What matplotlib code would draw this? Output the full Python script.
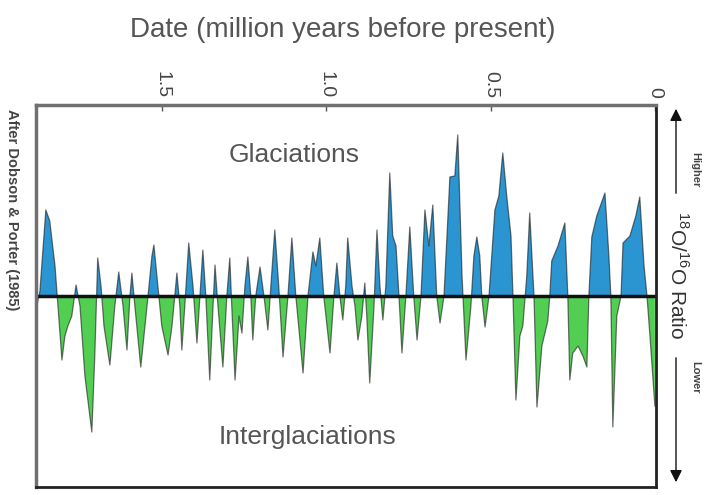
import numpy as np
import matplotlib
matplotlib.use("Agg")
import matplotlib.pyplot as plt

plt.rcParams["font.family"] = ["Liberation Sans", "DejaVu Sans"]
plt.rcParams["mathtext.fontset"] = "custom"
plt.rcParams["mathtext.rm"] = "Liberation Sans"

# age in thousand years before present, isotope anomaly in relative units
age_kyr = [
    1884, 1872, 1854, 1842, 1826, 1817, 1805, 1796, 1787, 1775,
    1762, 1750, 1735, 1714, 1705, 1696, 1686, 1677, 1659, 1644,
    1632, 1619, 1607, 1598, 1592, 1583, 1565, 1546, 1531, 1525,
    1513, 1501, 1482, 1470, 1455, 1446, 1440, 1431, 1419, 1406,
    1394, 1385, 1376, 1367, 1355, 1345, 1339, 1330, 1315, 1303,
    1294, 1288, 1278, 1266, 1257, 1248, 1239, 1230, 1224, 1215,
    1202, 1190, 1178, 1169, 1157, 1145, 1132, 1117, 1105, 1093,
    1071, 1056, 1041, 1032, 1020, 1008, 989, 977, 968, 959,
    950, 941, 935, 922, 913, 904, 892, 883, 877, 868,
    855, 846, 837, 828, 819, 807, 798, 788, 779, 770,
    758, 746, 734, 724, 712, 700, 688, 676, 664, 654,
    642, 624, 609, 600, 587, 575, 560, 551, 542, 533,
    527, 517, 505, 487, 475, 463, 451, 438, 432, 423,
    411, 402, 390, 381, 368, 359, 344, 326, 320, 314,
    295, 274, 265, 259, 250, 234, 219, 207, 201, 192,
    177, 152, 140, 134, 128, 116, 103, 97, 76, 58,
    46, 33, 24, 15, 0,
]
ratio = [
    -1.4, 0.5, 8.6, 7.5, 3.0, -1.0, -6.4, -4.0, -3.0, -2.0,
    1.1, -1.0, -8.0, -13.6, -6.0, 3.8, 1.0, -3.0, -6.9, -1.0,
    2.4, -1.0, -5.4, 0.0, 2.3, -1.0, -7.1, -1.0, 4.0, 5.1,
    1.0, -3.0, -5.9, -3.0, 2.3, -1.0, -5.4, -1.0, 5.3, 1.0,
    -4.7, 0.0, 4.6, 0.0, -8.4, -1.0, 3.1, -1.0, -7.1, 0.0,
    3.8, -1.0, -8.4, -2.0, -3.7, 1.0, 3.9, 0.0, -4.4, 0.0,
    2.9, 0.0, -3.4, 1.0, 6.6, 1.0, -6.1, 0.0, 5.8, 0.0,
    -7.7, 0.0, 4.4, 3.0, 5.8, 0.0, -5.7, 0.0, 3.3, 0.0,
    -2.4, 1.0, 5.8, 1.0, -1.0, -4.4, -2.0, 1.3, -2.0, -8.7,
    -1.0, 6.6, 1.0, -2.4, 1.0, 12.3, 6.0, 5.0, 0.0, -5.7,
    0.0, 6.9, 0.0, -4.4, 0.0, 8.6, 5.0, 9.1, 0.0, -2.7,
    0.0, 11.9, 12.0, 16.1, 2.0, -6.4, -1.0, 4.0, 5.9, 4.0,
    0.0, -3.1, 0.0, 8.6, 10.0, 14.3, 10.0, 6.0, 0.0, -10.4,
    -4.0, -3.0, 2.0, 8.3, 0.0, -11.1, -5.0, -2.5, 0.0, 3.5,
    5.0, 7.3, 0.0, -8.4, -5.7, -5.0, -6.0, -7.1, 0.0, 5.9,
    8.0, 10.3, 4.0, 0.0, -13.1, -2.0, 0.0, 5.3, 6.0, 8.0,
    9.9, 3.0, 0.0, -4.0, -11.0,
]

tick_ages = [1500, 1000, 500, 0]
tick_labels = ["1.5", "1.0", "0.5", "0"]

t = np.array(age_kyr, dtype=float)
v = np.array(ratio)

fig = plt.figure(figsize=(7.04, 4.95), dpi=100)
ax = fig.add_axes([0.0511, 0.016, 0.881, 0.772])

ax.fill_between(t, v, 0, where=v >= 0, interpolate=True,
                color="#2a95d0", lw=0)
ax.fill_between(t, v, 0, where=v <= 0, interpolate=True,
                color="#52cf52", lw=0)
ax.plot(t, v, color="#1a1a1a", lw=0.9, alpha=0.6)
ax.axhline(0, color="#111111", lw=2.5)

ax.set_xlim(1884, -4)
ax.set_ylim(-19.1, 19.1)
ax.set_yticks([])

ax.xaxis.tick_top()
ax.set_xticks(tick_ages)
ax.set_xticklabels(tick_labels, rotation=-90, fontsize=14, color="#444444")
ax.tick_params(axis="x", direction="in", length=4, width=1,
               color="#555555", pad=5)

for side in ("top", "left"):
    ax.spines[side].set_color("#707070")
    ax.spines[side].set_linewidth(2.5)
for side in ("right", "bottom"):
    ax.spines[side].set_color("#222222")
    ax.spines[side].set_linewidth(2)

ax.text(0.416, 0.869, "Glaciations", transform=ax.transAxes,
        ha="center", va="center", fontsize=19, color="#555555")
ax.text(0.437, 0.131, "Interglaciations", transform=ax.transAxes,
        ha="center", va="center", fontsize=19, color="#555555")

fig.text(343 / 704, 1 - 30 / 495, "Date (million years before present)",
         ha="center", va="center", fontsize=20, color="#555555")

fig.text(12 / 704, 1 - 210 / 495, "After Dobson & Porter (1985)",
         ha="center", va="center", rotation=-90, fontsize=10.5,
         weight="bold", color="#444444")

# ratio direction indicator on the right
fig.text(677 / 704, 1 - 275 / 495, r"$^{18}$O/$^{16}$O Ratio",
         ha="center", va="center", rotation=-90, fontsize=15,
         color="#333333")
fig.text(695 / 704, 1 - 170 / 495, "Higher", ha="center", va="center",
         rotation=-90, fontsize=8, weight="bold", color="#444444")
fig.text(695 / 704, 1 - 377 / 495, "Lower", ha="center", va="center",
         rotation=-90, fontsize=8, weight="bold", color="#444444")
arrow = dict(arrowstyle="-|>", color="#111111", lw=1, mutation_scale=18)
ax.annotate("", xy=(676 / 704, 1 - 106 / 495),
            xytext=(676 / 704, 1 - 196 / 495),
            xycoords="figure fraction", arrowprops=arrow)
ax.annotate("", xy=(676 / 704, 1 - 485 / 495),
            xytext=(676 / 704, 1 - 355 / 495),
            xycoords="figure fraction", arrowprops=arrow)

fig.savefig("out.png", dpi=100)
